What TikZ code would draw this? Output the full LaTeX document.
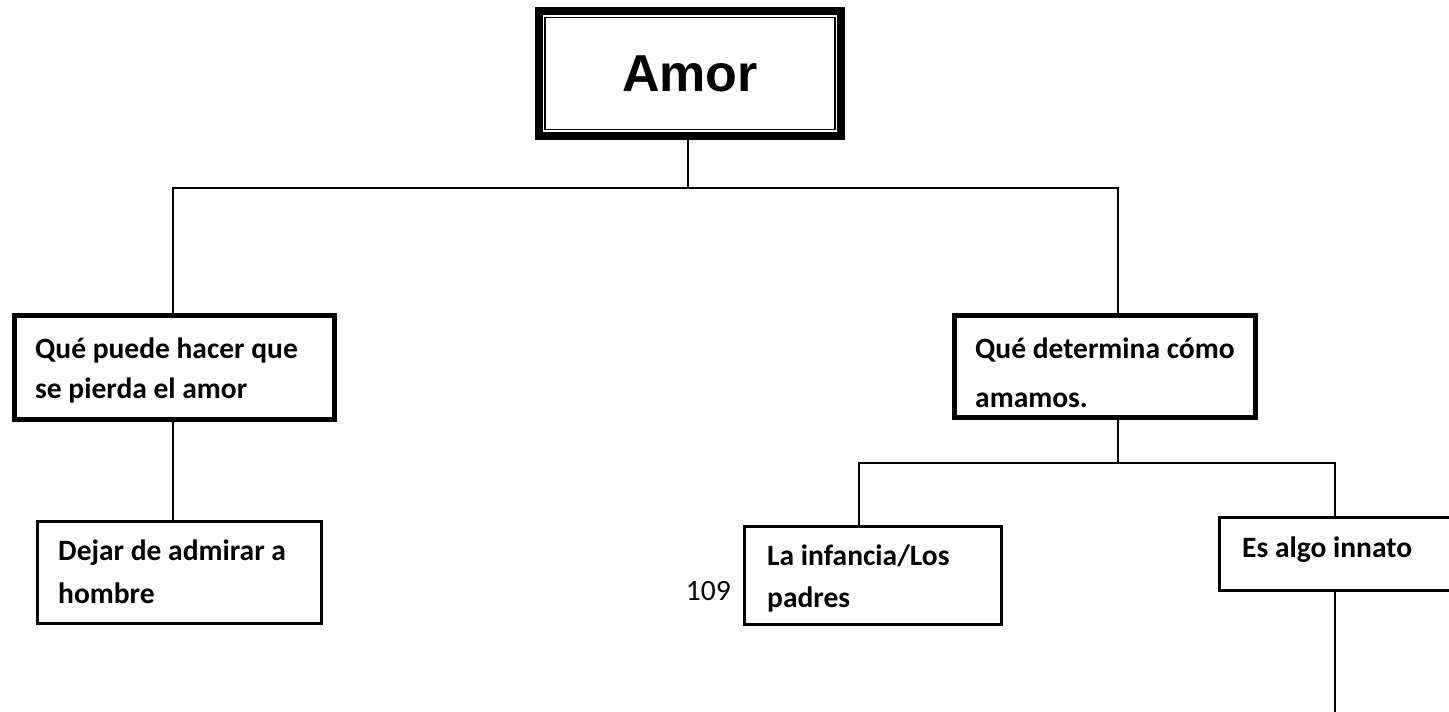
\documentclass[tikz,border=0pt]{standalone}
\usepackage{fontspec}
\setmainfont{Carlito}
\newfontfamily\arialfont{Liberation Sans}
\begin{document}
\begin{tikzpicture}[x=1pt,y=-1pt,
  thickbox/.style={draw, line width=5pt, inner sep=0pt, outer sep=0pt},
  thinbox/.style={draw, line width=2.6pt, inner sep=0pt, outer sep=0pt},
  boxtext/.style={anchor=north west, inner sep=0pt, align=left, font=\bfseries\fontsize{29.5}{#1}\selectfont},
  link/.style={line width=2pt}]
\useasboundingbox (0,0) rectangle (1449,712);
% Amor (double frame)
\node[draw, line width=8pt, inner sep=0pt, outer sep=0pt, minimum width=302pt, minimum height=125pt,
      font=\arialfont\bfseries\fontsize{52}{62}\selectfont] (amor) at (690,73.5) {Amor};
\draw[line width=1.8pt] ([shift={(6,6.5)}]amor.north west) rectangle ([shift={(-6,-6.5)}]amor.south east);
% level 1 boxes
\node[thickbox, minimum width=320pt, minimum height=104pt] (lq) at (174.5,367.5) {};
\node[boxtext=40] (lqt) at (35,330) {\strut Qué puede hacer que\\se pierda el amor};
\node[thickbox, minimum width=301pt, minimum height=102pt] (rq) at (1105,366.5) {};
\node[boxtext=49] (rqt) at (975,323.7) {\strut Qué determina cómo\\amamos.};
% level 2 boxes
\node[thinbox, minimum width=284.5pt, minimum height=102.5pt] (dejar) at (179.5,572.5) {};
\node[boxtext=43] (dejart) at (58,529.9) {\strut Dejar de admirar a\\hombre};
\node[thinbox, minimum width=257.5pt, minimum height=98.5pt] (inf) at (873,575.5) {};
\node[boxtext=42] (inft) at (767,535.6) {\strut La infancia/Los\\padres};
\node[thinbox, minimum width=251pt, minimum height=73.5pt] (inn) at (1344.75,554) {};
\node[boxtext=42] (innt) at (1242,527.6) {\strut Es algo innato};
\node[font=\fontsize{29.5}{34}\selectfont, anchor=base east, inner sep=0pt] (num) at (731,600) {109};
% junctions
\coordinate (j0) at (688,188);
\coordinate (jl) at (173,188);
\coordinate (jr) at (1118,188);
\coordinate (k0) at (1118,463);
\coordinate (kl) at (859,463);
\coordinate (kr) at (1335,463);
\coordinate (tail) at (1335,712);
% connectors
\draw[link] (amor.south -| j0) -- (j0);
\draw[link] (lq.north -| jl) -- (jl) -- (jr) -- (rq.north -| jr);
\draw[link] (lq.south -| jl) -- (dejar.north -| jl);
\draw[link] (rq.south -| k0) -- (k0);
\draw[link] (inf.north -| kl) -- (kl) -- (kr) -- (inn.north -| kr);
\draw[link] (inn.south -| tail) -- (tail);
\end{tikzpicture}
\end{document}
